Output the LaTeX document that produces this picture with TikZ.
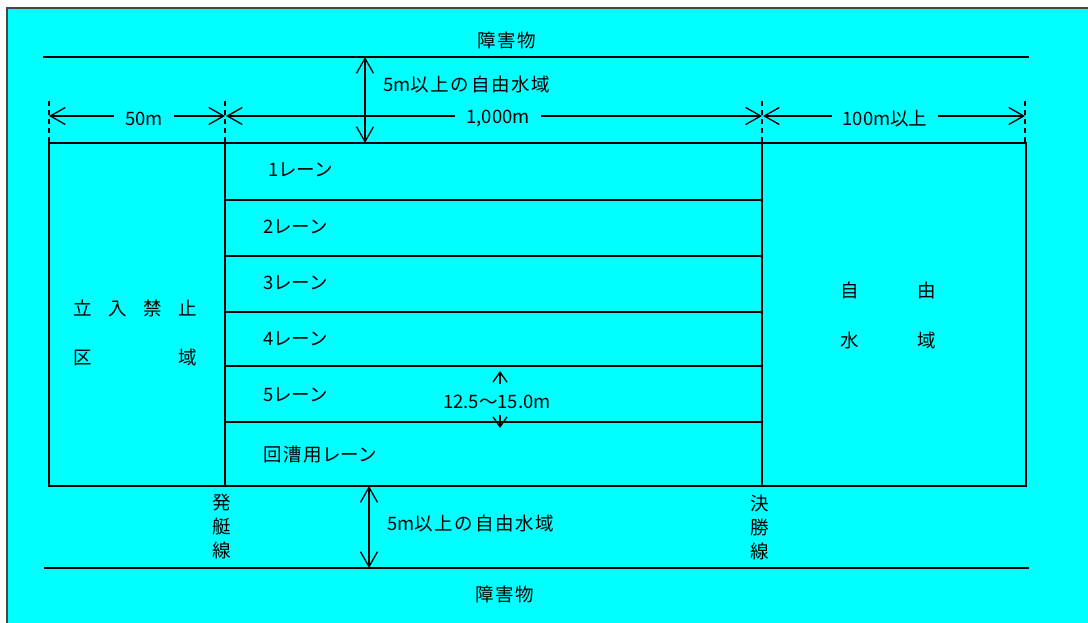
\documentclass[tikz,border=0pt]{standalone}
\usepackage{fontspec}
\setmainfont{Noto Sans CJK JP}
\usetikzlibrary{arrows.meta}
\definecolor{pool}{RGB}{0,255,255}
\definecolor{framegray}{RGB}{70,70,70}
\newcommand{\wide}[1]{{\addfontfeature{LetterSpace=9}#1}}
\begin{document}
\begin{tikzpicture}[x=1pt,y=-1pt,
  txt/.style={inner sep=0pt, font=\fontsize{18.5}{21}\selectfont},
  big/.style={line width=1.5pt},
  thin/.style={line width=1.3pt},
  barb/.style={line width=1.3pt, {Straight Barb[length=15pt,width=17pt]}-{Straight Barb[length=15pt,width=17pt]}},
  smallbarb/.style={line width=1.3pt, -{Straight Barb[length=10pt,width=14pt]}},
  dimlabel/.style={txt, fill=pool, inner xsep=11pt, inner ysep=3pt},
  tick/.style={line width=1.3pt, dash pattern=on 5pt off 4pt}]
\useasboundingbox (0,0) rectangle (1088,623);
\fill[pool] (7,8) rectangle (1092,627);
\draw[framegray, line width=1.6pt] (1092,8) -- (7,8) -- (7,627);
% named points
\coordinate (oTL) at (43,57);  \coordinate (oTR) at (1029,57);
\coordinate (oBL) at (44,568); \coordinate (oBR) at (1029,568);
\coordinate (pTL) at (49,143); \coordinate (pBR) at (1026,486);
\coordinate (sT) at (225,143); \coordinate (sB) at (225,486);
\coordinate (fT) at (762,143); \coordinate (fB) at (762,486);
\coordinate (vT1) at (365,57); \coordinate (vT2) at (365,143);
\coordinate (vB1) at (369,486); \coordinate (vB2) at (369,568);
\coordinate (d1) at (49,116); \coordinate (d2) at (225,116);
\coordinate (d3) at (762,116); \coordinate (d4) at (1025,116);
% obstacle lines
\draw[big] (oTL) -- (oTR);
\draw[big] (oBL) -- (oBR);
\node[txt] (obsT) at (507,40) {\wide{障害物}};
\node[txt] (obsB) at (505,594) {\wide{障害物}};
% pool
\draw[big] (pTL) rectangle (pBR);
\draw[thin] (sT) -- (sB);
\draw[thin] (fT) -- (fB);
\foreach \y/\n in {200/1,256/2,312/3,366/4,422/5}{
  \coordinate (la\n) at (225,\y); \coordinate (lb\n) at (762,\y);
  \draw[thin] (la\n) -- (lb\n);
}
% lane labels
\node[txt, anchor=west] (l1) at (268,170) {1レーン};
\node[txt, anchor=west] (l2) at (263,227) {2レーン};
\node[txt, anchor=west] (l3) at (263,283) {3レーン};
\node[txt, anchor=west] (l4) at (263,339) {4レーン};
\node[txt, anchor=west] (l5) at (263,395) {5レーン};
\node[txt, anchor=west] (l6) at (263,455) {\wide{回漕用}レーン};
% lane width
\node[txt] (lw) at (497,402) {12.5〜15.0m};
\coordinate (aU1) at (500,384); \coordinate (aU2) at (500,371);
\coordinate (aD1) at (500,415); \coordinate (aD2) at (500,428);
\draw[smallbarb] (aU1) -- (aU2);
\draw[smallbarb] (aD1) -- (aD2);
% vertical free water arrows
\draw[barb] (vT1) -- (vT2);
\draw[barb] (vB1) -- (vB2);
\node[txt, anchor=west] (fwT) at (383,84) {5m\wide{以上の自由水域}};
\node[txt, anchor=west] (fwB) at (387,523) {5m\wide{以上の自由水域}};
% dimension ticks
\foreach \x/\n in {49/1,225/2,762/3,1025/4}{
  \coordinate (tk\n) at (\x,101); \coordinate (tb\n) at (\x,143);
  \draw[tick] (tk\n) -- (tb\n);
}
% dimension lines
\draw[barb] (d1) -- (d2);
\draw[barb] ([xshift=1pt]d2) -- (d3);
\draw[barb] ([xshift=1pt]d3) -- (d4);
\node[dimlabel] (dl1) at (144,119) {50m};
\node[dimlabel] (dl2) at (498,119) {1,000m};
\node[dimlabel] (dl3) at (885,119) {100m以上};
% zone labels
\node[txt] (kin1) at (135.5,308) {\makebox[35pt]{立}\makebox[35pt]{入}\makebox[35pt]{禁}\makebox[35pt]{止}};
\node[txt] (kin2) at (135.5,357) {\makebox[35pt]{区}\hspace{70pt}\makebox[35pt]{域}};
\node[txt] (jy1) at (888.5,290) {\makebox[77pt]{自}\makebox[77pt]{由}};
\node[txt] (jy2) at (888.5,340) {\makebox[77pt]{水}\makebox[77pt]{域}};
% start / finish line labels
\node[txt, align=center, font=\fontsize{18.5}{24}\selectfont] (start) at (222,526) {発\\艇\\線};
\node[txt, align=center, font=\fontsize{18.5}{24}\selectfont] (finish) at (760,527) {決\\勝\\線};
\end{tikzpicture}
\end{document}
